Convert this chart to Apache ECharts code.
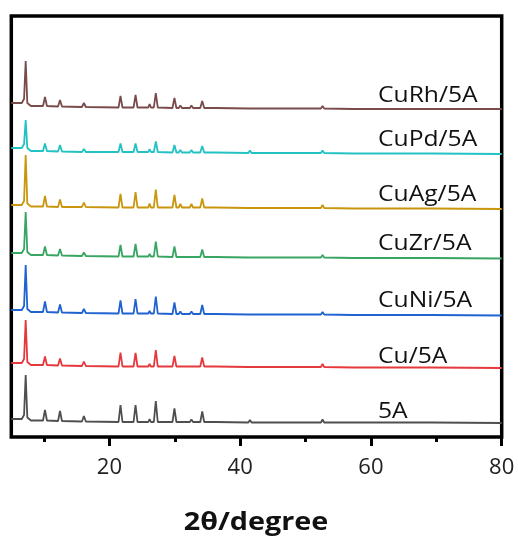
<!DOCTYPE html>
<html>
<head>
<meta charset="utf-8">
<script src="https://cdn.jsdelivr.net/npm/echarts@6/dist/echarts.min.js"></script>
<style>html,body{margin:0;padding:0;background:#fff;}#c{width:518px;height:536px;}</style>
</head>
<body>
<div id="c"></div>
<script>
// 2θ positions (degree)
var twoTheta = [5,6.6,6.95,7.2,7.45,8.0, 9.85,10.15,10.45, 12.15,12.45,12.75, 15.8,16.1,16.4, 21.4,21.7,22.0, 23.7,24.0,24.3, 25.95,26.15,26.35, 26.8,27.1,27.4, 29.65,29.95,30.25, 30.6,30.85,31.1, 32.3,32.55,32.8, 33.9,34.2,34.5, 35.8,36.0,36.2, 41.25,41.5,41.75, 43.8,44.0,44.2, 47.1,47.3,47.5, 52.35,52.6,52.85, 57.3,57.5,57.7, 68.9,69.1,69.3, 80];

// intensities (a.u., stacked with offsets)
var CuRh = [334,334,338,376,334,331, 331,340,331, 330.5,337,330.5, 330,334,330, 329.5,341,329.5, 329.5,342,329.5, 329.5,333,329.5, 329.5,344,329.5, 329,339,329, 329,331.5,329, 329,331.5,329, 329,336,329, 329,330.5,329, 328.5,330.5,328.5, 328.5,330,328.5, 328.5,330,328.5, 328.5,331,328.5, 328,329.5,328, 328,329.5,328, 328];
var CuPd = [289,289,293,317,289,286, 286,293.5,286, 285.5,292,285.5, 285,288,285, 285,293.5,285, 285,293.5,285, 285,288,285, 285,295.5,285, 284.5,292,284.5, 284.5,287,284.5, 284.5,287,284.5, 284.5,291,284.5, 284.5,286,284.5, 284,286.5,284, 284,285.5,284, 284,285.5,284, 284,286.5,284, 283.5,285,283.5, 283.5,285,283.5, 283];
var CuAg = [232,232,236,282,233.5,230.5, 230.5,241,230.5, 230,237.5,230, 230,234.5,230, 229.5,243,229.5, 229.5,245,229.5, 229.5,233.5,229.5, 229.5,247.5,229.5, 229.5,242,229.5, 229.5,233,229.5, 229.5,233,229.5, 229.5,238.5,229.5, 229.5,231,229.5, 229,231,229, 229,230.5,229, 229,230.5,229, 229,232,229, 228.5,230,228.5, 228.5,230,228.5, 228];
var CuZr = [184,184,188,225,185,182, 182,190.5,182, 181.5,188,181.5, 181,184.5,181, 180.5,192,180.5, 180.5,193,180.5, 180.5,183,180.5, 180.5,195.5,180.5, 180,190.5,180, 180,182,180, 180,182,180, 180,187.5,180, 180,181.5,180, 179.5,181,179.5, 179.5,180.5,179.5, 179.5,180.5,179.5, 179.5,182,179.5, 179,180.5,179, 179,180.5,179, 178.5];
var CuNi = [127,127,131,172,128,125, 125,135.5,125, 124.5,132.5,124.5, 124,128,124, 123.5,136.5,123.5, 123.5,138,123.5, 123.5,126,123.5, 123.5,140.5,123.5, 123,134.5,123, 123,125.5,123, 123,125.5,123, 123,132,123, 123,124.5,123, 122.5,124.5,122.5, 122.5,123.5,122.5, 122.5,123.5,122.5, 122.5,125,122.5, 122,123.5,122, 122,123.5,122, 121.5];
var Cu = [74,74,78,117,75,72, 72,80.5,72, 71.5,78.5,71.5, 71,75.5,71, 70.5,84.5,70.5, 70.5,84,70.5, 70.5,73,70.5, 70.5,87,70.5, 70.5,81,70.5, 70.5,72.5,70.5, 70.5,72.5,70.5, 70.5,79.5,70.5, 70.5,71.5,70.5, 70,72,70, 70,71.5,70, 70,71.5,70, 70,73,70, 69.5,71,69.5, 69.5,71,69.5, 69];
var A5 = [18,18,22,62,19.5,16.5, 16.5,27,16.5, 16,26,16, 15.5,21,15.5, 15,32,15, 15,32,15, 15,18,15, 15,36,15, 15,28.5,15, 15,17,15, 15,17.5,15, 15,25.5,15, 15,16,15, 14.5,17,14.5, 14.5,16,14.5, 14.5,16,14.5, 14.5,17.5,14.5, 14.5,16,14.5, 14.5,16,14.5, 14];

var seriesNames = ['CuRh/5A','CuPd/5A','CuAg/5A','CuZr/5A','CuNi/5A','Cu/5A','5A'];
var seriesValues = [CuRh, CuPd, CuAg, CuZr, CuNi, Cu, A5];
var seriesColors = ['#7a4b4b','#22c2c4','#c9960e','#38a563','#2062d0','#e6393d','#4f4f4f'];
var majorTicks = [20,40,60,80];
var minorTicks = [10,30,50,70];
var labelY = [96,140,195,244,301,357,412];

function pairs(vals){ return twoTheta.map(function(x,i){ return [x, vals[i]]; }); }

var chart = echarts.init(document.getElementById('c'), null, {renderer:'canvas'});
var series = seriesNames.map(function(n,i){
  return {type:'line', name:n, data:pairs(seriesValues[i]), showSymbol:false, symbol:'none',
    lineStyle:{color:seriesColors[i], width:1.8}, xAxisIndex:0, yAxisIndex:0, animation:false};
});
var graphics = seriesNames.map(function(n,i){
  return {type:'text', x:378, y:labelY[i], scaleX:1.12,
    style:{text:n, font:'22px "Open Sans"', fill:'#111', verticalAlign:'middle', textAlign:'left'}};
});
graphics.push({type:'text', x:256, y:523, scaleX:1.15,
  style:{text:'2θ/degree', font:'bold 25px "Open Sans"', fill:'#111', verticalAlign:'middle', textAlign:'center'}});

chart.setOption({
  animation:false,
  grid:{left:11.3, right:16.3, top:16, bottom:99, show:true, borderColor:'#000', borderWidth:3.5, backgroundColor:'transparent'},
  xAxis:[{
    type:'value', min:5, max:80, position:'bottom',
    axisLine:{show:false},
    splitLine:{show:false},
    axisTick:{show:true, inside:false, length:9, lineStyle:{color:'#000', width:3}, customValues:majorTicks},
    axisLabel:{show:true, customValues:majorTicks, margin:20, color:'#222', fontFamily:'Open Sans', fontSize:22}
  },{
    type:'value', min:5, max:80, position:'bottom',
    axisLine:{show:false}, splitLine:{show:false},
    axisTick:{show:true, inside:false, length:5, lineStyle:{color:'#000', width:3}, customValues:minorTicks},
    axisLabel:{show:false}
  }],
  yAxis:{type:'value', min:0, max:421, show:false},
  series:series,
  graphic:graphics
});
</script>
</body>
</html>
